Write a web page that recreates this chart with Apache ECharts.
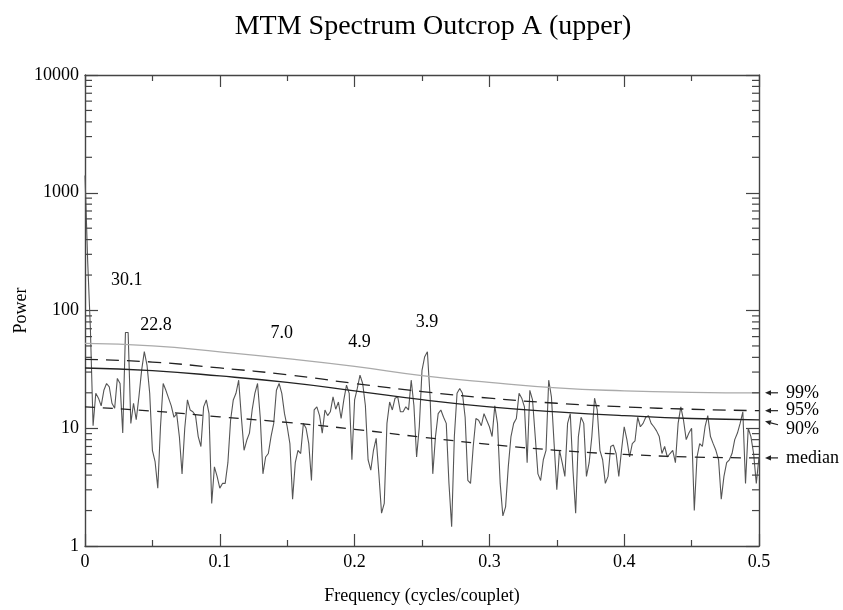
<!DOCTYPE html>
<html>
<head>
<meta charset="utf-8">
<title>MTM Spectrum Outcrop A (upper)</title>
<script src="https://cdn.jsdelivr.net/npm/echarts@6/dist/echarts.min.js"></script>
<style>
  html, body { margin: 0; padding: 0; background: #fff; }
  #main { width: 843px; height: 610px; }
</style>
</head>
<body>
<div id="main"></div>
<script>
// ---- data ---------------------------------------------------------------
// MTM power spectrum, sampled every 0.002 cycles/couplet from 0 to 0.5
const freqStep = 0.002;
const power = [
  1400, 260, 70, 10.5, 19.8, 18, 15.5, 21, 24, 22.5,
  16.3, 14.8, 26.5, 24, 9.1, 65, 65, 11, 16.3, 11.8,
  18.5, 31, 44.7, 34.4, 19.8, 6.5, 5.2, 3.1, 10.3, 24,
  21, 18, 15.5, 12.4, 13.3, 8.5, 4.1, 10, 17.4, 14.3,
  13.8, 12.8, 8.5, 7, 15.2, 17.4, 13.3, 2.3, 4.7, 3.9,
  3.1, 3.4, 3.4, 5.1, 11.7, 17.4, 19.8, 25.6, 12.4, 6.5,
  7.9, 9.1, 14.3, 19.8, 24, 12.4, 4.1, 5.7, 6.1, 8.5,
  11, 21, 24, 19.8, 13.3, 10.3, 7.4, 2.5, 5.1, 6.5,
  6.1, 11, 10, 7.4, 3.6, 14.3, 15.2, 12.8, 9.1, 14.3,
  12.8, 13.8, 18.5, 14.5, 16.7, 12.1, 17.4, 23.2, 19.8, 5.4,
  17.4, 21.8, 28.3, 24, 15.6, 5.4, 4.4, 6.5, 8.2, 4.1,
  1.9, 2.3, 11, 16.7, 14.3, 18, 18.5, 13.8, 13.8, 15.2,
  14.3, 25.6, 15.6, 5.7, 10.3, 31, 40.5, 44.7, 18.5, 4.1,
  8.5, 13.3, 14.3, 12.4, 11, 3.4, 1.46, 8.5, 19.8, 21.8,
  19.8, 12.4, 3.6, 3.4, 7, 12.1, 11.7, 10.5, 13.3, 11.7,
  10.3, 8.5, 15.5, 11, 3.4, 1.8, 2.15, 4.7, 8.5, 11,
  12.1, 19.8, 18, 15.2, 5.1, 21, 17.4, 8.5, 4.1, 3.6,
  5.4, 6.5, 25.6, 18.5, 7.4, 3, 6.5, 5.1, 3.9, 11,
  13.3, 4.4, 1.9, 8.5, 12.4, 11, 3.9, 5.1, 8.5, 18,
  14.3, 6.5, 5.4, 3.4, 3.9, 7, 7.2, 6.1, 3.9, 6.5,
  10.3, 8, 5.7, 7.4, 7.8, 12.4, 10.3, 11, 12.4, 12.8,
  11, 10.3, 9.5, 8.5, 6.1, 7, 5.7, 6.1, 6.5, 5.1,
  11, 15.2, 11.7, 8, 9.1, 10, 2.0, 5.7, 7.4, 7,
  10.3, 12.8, 8.5, 7.4, 6.5, 5.4, 2.5, 3.9, 5.1, 5.4,
  6.1, 8, 9.1, 11, 13.8, 3.4, 10, 8.5, 6.1, 3.4, 5.7
];
const freq = power.map((_, i) => +(i * freqStep).toFixed(3));

// red-noise confidence levels and median background
const levelFreq = [0, 0.05, 0.1, 0.15, 0.2, 0.25, 0.3, 0.35, 0.4, 0.45, 0.5];
const conf99 = [52.5, 50, 44.5, 39, 33.5, 28, 24.5, 22, 20.8, 20.2, 20];
const conf95 = [38.5, 36.5, 32.5, 28.5, 24, 20.5, 18, 16.3, 15.2, 14.5, 14.1];
const conf90 = [32.5, 30.8, 27.8, 24.5, 20.8, 17.5, 15.2, 13.8, 12.8, 12.1, 11.8];
const median = [15.2, 14, 12.5, 11.2, 9.8, 8.4, 7.3, 6.5, 6.0, 5.7, 5.6];
const levelNames = ['99%', '95%', '90%', 'median'];

// period annotations (couplets) above the significant peaks
const peakText = ['30.1', '22.8', '7.0', '4.9', '3.9'];
const peakLabelFreq = [0.031, 0.0526, 0.146, 0.2037, 0.2538];
const peakLabelPower = [181, 75, 64, 54, 79];

// axis ticks
const xTickLabels = ['0', '0.1', '0.2', '0.3', '0.4', '0.5'];
const yTickLabels = ['1', '10', '100', '1000', '10000'];
const yMinorTicks = [];
for (let d = 1; d < 10000; d *= 10) {
  for (let m = 2; m <= 9; m++) yMinorTicks.push(d * m);
}

// ---- chart --------------------------------------------------------------
const FONT = '"Liberation Serif", "Times New Roman", serif';
const AXIS = '#444';
const INK = '#000';

const chart = echarts.init(document.getElementById('main'));

const axisLine = { show: true, onZero: false, lineStyle: { color: AXIS, width: 1.4 } };

const option = {
  animation: false,
  backgroundColor: '#fff',
  title: {
    text: 'MTM Spectrum Outcrop A (upper)',
    left: 428, top: 8, textAlign: 'center',
    textStyle: { fontFamily: FONT, fontSize: 28, fontWeight: 'normal', color: INK }
  },
  grid: { left: 85, right: 84, top: 75, bottom: 64, containLabel: false, outerBoundsMode: 'none' },
  xAxis: [{
    type: 'value', min: 0, max: 0.5, interval: 0.1, position: 'bottom',
    axisLine,
    axisTick: { show: true, inside: true, length: 12, lineStyle: { color: AXIS, width: 1.2 } },
    minorTick: { show: true, splitNumber: 2, length: 6, lineStyle: { color: AXIS, width: 1.2 } },
    splitLine: { show: false },
    axisLabel: {
      color: INK, fontFamily: FONT, fontSize: 18, margin: 7,
      formatter: v => xTickLabels[Math.round(v * 10)]
    },
    name: 'Frequency (cycles/couplet)', nameLocation: 'middle', nameGap: 41,
    nameTextStyle: { fontFamily: FONT, fontSize: 18, color: INK }
  }, {
    type: 'value', min: 0, max: 0.5, interval: 0.1, position: 'top',
    axisLine,
    axisTick: { show: true, inside: true, length: 12, lineStyle: { color: AXIS, width: 1.2 } },
    minorTick: { show: true, splitNumber: 2, length: 6, lineStyle: { color: AXIS, width: 1.2 } },
    splitLine: { show: false },
    axisLabel: { show: false }
  }],
  yAxis: [{
    type: 'log', logBase: 10, min: 1, max: 10000, position: 'left',
    axisLine,
    axisTick: { show: true, inside: true, length: 13, lineStyle: { color: AXIS, width: 1.2 } },
    splitLine: { show: false },
    axisLabel: {
      color: INK, fontFamily: FONT, fontSize: 18, margin: 6,
      formatter: v => yTickLabels[Math.round(Math.log10(v))]
    },
    name: 'Power', nameLocation: 'middle', nameGap: 55, nameMoveOverlap: false,
    nameTextStyle: { fontFamily: FONT, fontSize: 18, color: INK }
  }, {
    type: 'log', logBase: 10, min: 1, max: 10000, position: 'right',
    axisLine,
    axisTick: { show: true, inside: true, length: 13, lineStyle: { color: AXIS, width: 1.2 } },
    splitLine: { show: false },
    axisLabel: { show: false }
  }],
  series: [
    {
      name: 'spectrum', type: 'line', symbol: 'none', z: 2,
      data: power.map((p, i) => [freq[i], p]),
      lineStyle: { color: '#555', width: 1.1 }
    },
    {
      name: '99%', type: 'line', symbol: 'none', smooth: true, z: 3,
      data: conf99.map((v, i) => [levelFreq[i], v]),
      lineStyle: { color: '#aaaaaa', width: 1.3 }
    },
    {
      name: '95%', type: 'line', symbol: 'none', smooth: true, z: 3,
      data: conf95.map((v, i) => [levelFreq[i], v]),
      lineStyle: { color: '#222', width: 1.3, type: [13, 8] }
    },
    {
      name: '90%', type: 'line', symbol: 'none', smooth: true, z: 3,
      data: conf90.map((v, i) => [levelFreq[i], v]),
      lineStyle: { color: '#222', width: 1.3 }
    },
    {
      name: 'median', type: 'line', symbol: 'none', smooth: true, z: 3,
      data: median.map((v, i) => [levelFreq[i], v]),
      lineStyle: { color: '#222', width: 1.3, type: [10, 8] }
    },
    {
      name: 'periods', type: 'scatter', symbolSize: 0, silent: true, z: 4,
      itemStyle: { opacity: 1 },
      data: peakText.map((t, i) => [peakLabelFreq[i], peakLabelPower[i], t]),
      label: {
        show: true, position: 'inside', formatter: p => p.value[2],
        fontFamily: FONT, fontSize: 18, color: INK, opacity: 1
      }
    },
    {
      // log-spaced minor ticks on the left and right frame
      name: 'minorTicks', type: 'custom', silent: true, clip: false, z: 5,
      data: yMinorTicks.map(v => [0, v]),
      renderItem(params, api) {
        const v = api.value(1);
        const l = api.coord([0, v]);
        const r = api.coord([0.5, v]);
        const style = { stroke: AXIS, lineWidth: 1.2 };
        return {
          type: 'group',
          children: [
            { type: 'line', shape: { x1: l[0], y1: l[1], x2: l[0] + 7, y2: l[1] }, style },
            { type: 'line', shape: { x1: r[0] - 7, y1: r[1], x2: r[0], y2: r[1] }, style }
          ]
        };
      }
    }
  ]
};

chart.setOption(option);

// ---- level labels with arrows in the right margin ------------------------
const levelEnds = [conf99, conf95, conf90, median].map(a => a[a.length - 1]);
const textShift = [0, 0, 9, 0];   // the 90% label sits just below its level
const graphics = [];
levelNames.forEach((name, i) => {
  const p = chart.convertToPixel({ gridIndex: 0 }, [0.5, levelEnds[i]]);
  const xr = p[0], yLevel = p[1];
  const yText = yLevel + textShift[i];
  const tail = [xr + 19, textShift[i] ? yText - 4 : yText];
  const tip = [xr + 6, textShift[i] ? yLevel + 1.5 : yLevel];
  const dx = tail[0] - tip[0], dy = tail[1] - tip[1];
  const len = Math.hypot(dx, dy), ux = dx / len, uy = dy / len;
  const bx = tip[0] + ux * 6, by = tip[1] + uy * 6;
  graphics.push({
    type: 'line', silent: true,
    shape: { x1: tail[0], y1: tail[1], x2: bx, y2: by },
    style: { stroke: '#222', lineWidth: 1.2 }
  });
  graphics.push({
    type: 'polygon', silent: true,
    shape: { points: [tip, [bx - uy * 2.6, by + ux * 2.6], [bx + uy * 2.6, by - ux * 2.6]] },
    style: { fill: '#222' }
  });
  graphics.push({
    type: 'text', silent: true, x: xr + 27, y: yText,
    style: { text: name, font: '18px ' + FONT, fill: INK, align: 'left', verticalAlign: 'middle' }
  });
});
chart.setOption({ graphic: graphics });
</script>
</body>
</html>
